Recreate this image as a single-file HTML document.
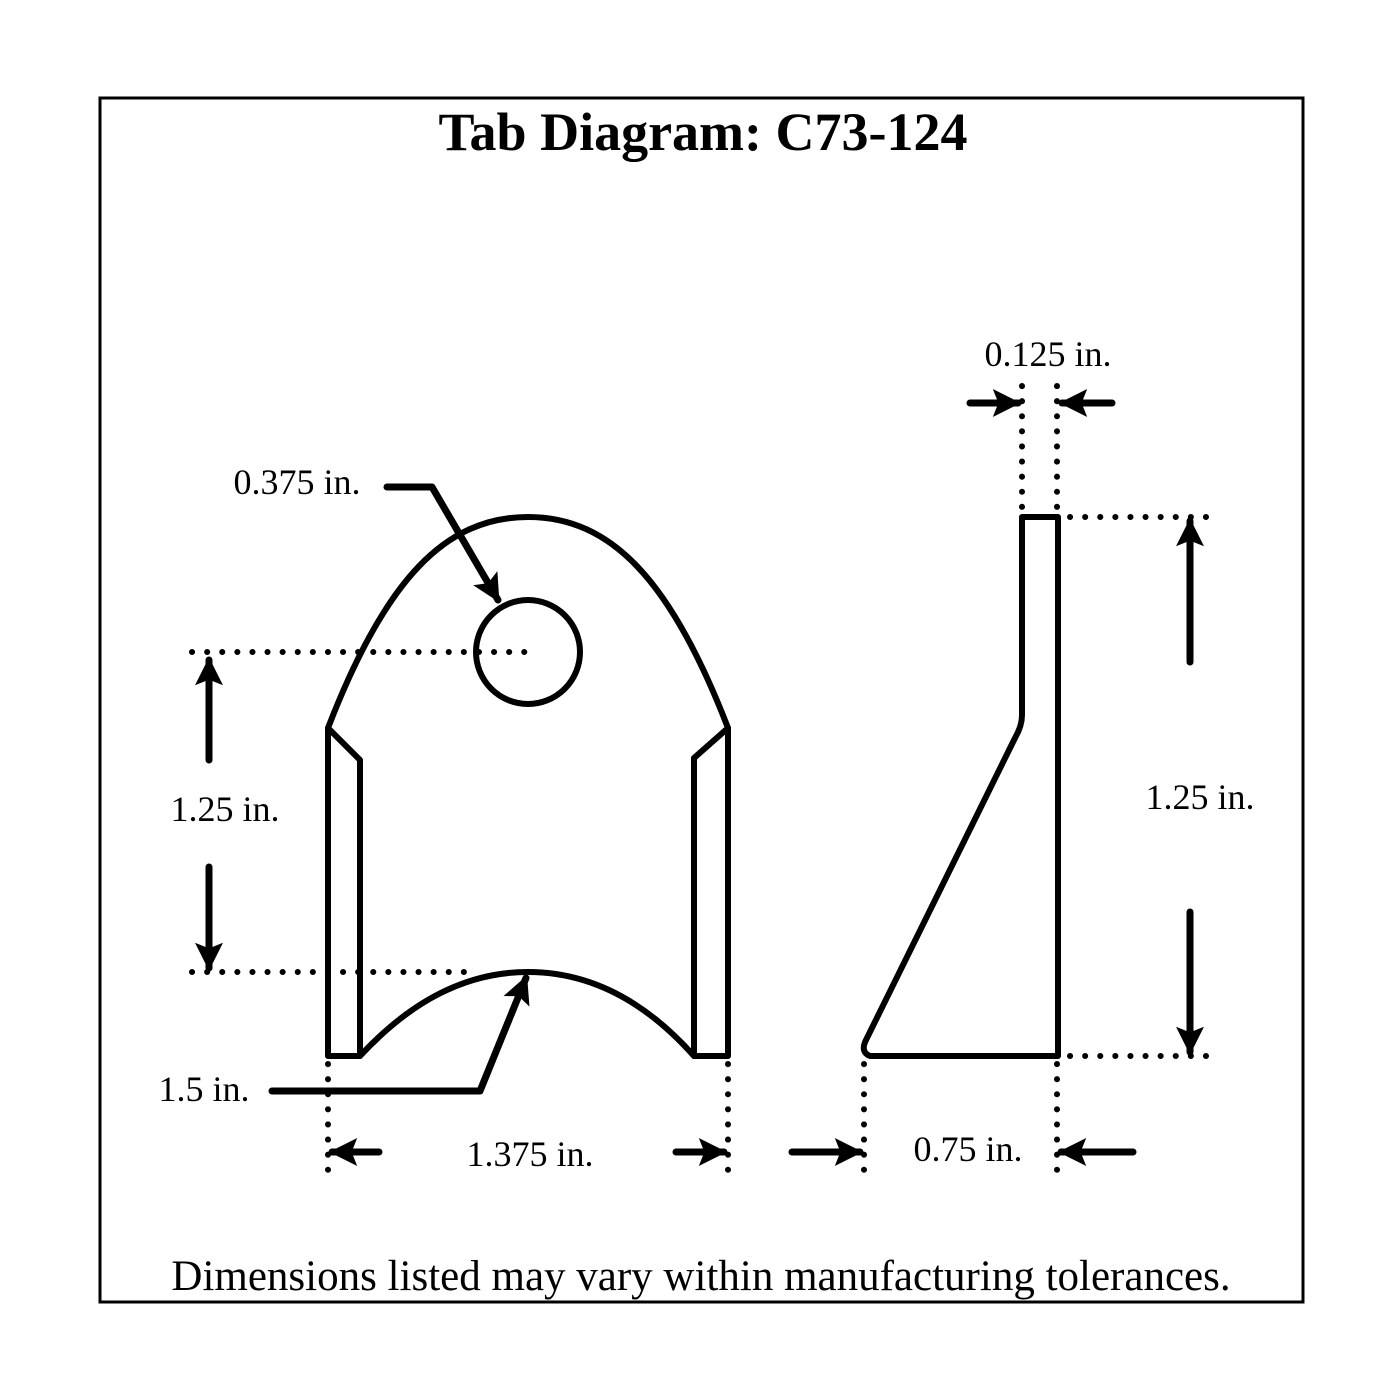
<!DOCTYPE html>
<html><head><meta charset="utf-8"><style>
html,body{margin:0;padding:0;background:#fff;}
svg{display:block;}
text{font-family:"Liberation Serif",serif;fill:#000;}
</style></head><body>
<svg width="1400" height="1400" viewBox="0 0 1400 1400" xmlns="http://www.w3.org/2000/svg">
<defs>
<marker id="ah" viewBox="0 0 10 10" refX="9" refY="5" markerWidth="4.5" markerHeight="4" markerUnits="strokeWidth" orient="auto">
<path d="M0,0 L10,5 L0,10 L2,5 Z" fill="#000"/></marker>
</defs>
<rect x="100" y="98" width="1203" height="1204" fill="none" stroke="#000" stroke-width="3"/>
<text x="703" y="150" font-size="54" font-weight="bold" text-anchor="middle">Tab Diagram: C73-124</text>
<text x="701" y="1290" font-size="43" text-anchor="middle">Dimensions listed may vary within manufacturing tolerances.</text>

<g fill="none" stroke="#000" stroke-width="6" stroke-linejoin="round" stroke-linecap="round">
<path d="M328,728 C385,580 445,517 528,517 C611,517 671,580 728,728"/>
<path d="M328,728 L328,1056 L360,1056 L360,760 Z"/>
<path d="M728,728 L728,1056 L694,1056 L694,758 Z"/>
<path d="M360,1056 C410,1002 465,972 528,972 C591,972 646,1002 694,1056"/>
<circle cx="528" cy="652" r="52"/>
<path d="M1022,517 L1058,517 L1058,1056 L870,1056 Q860,1052 866,1040 L1015,738 Q1022,726 1022,715 Z"/>
</g>

<g fill="none" stroke="#000" stroke-width="6" stroke-linecap="round" stroke-dasharray="0.1 15">
<line x1="192" y1="652" x2="530" y2="652"/>
<line x1="192" y1="972" x2="470" y2="972"/>
<line x1="328" y1="1064" x2="328" y2="1170"/>
<line x1="728" y1="1064" x2="728" y2="1170"/>
<line x1="1022" y1="386" x2="1022" y2="508"/>
<line x1="1057" y1="386" x2="1057" y2="508"/>
<line x1="1070" y1="517" x2="1210" y2="517"/>
<line x1="1070" y1="1056" x2="1210" y2="1056"/>
<line x1="864" y1="1064" x2="864" y2="1170"/>
<line x1="1057" y1="1064" x2="1057" y2="1170"/>
</g>

<g fill="none" stroke="#000" stroke-width="7" stroke-linecap="round" stroke-linejoin="round">
<line x1="209" y1="760" x2="209" y2="660" marker-end="url(#ah)"/>
<line x1="209" y1="867" x2="209" y2="968" marker-end="url(#ah)"/>
<polyline points="387,487 432,487 498,600" marker-end="url(#ah)"/>
<polyline points="272,1091 480,1091 526,978" marker-end="url(#ah)"/>
<line x1="379" y1="1152" x2="332" y2="1152" marker-end="url(#ah)"/>
<line x1="676" y1="1152" x2="724" y2="1152" marker-end="url(#ah)"/>
<line x1="970" y1="403" x2="1018" y2="403" marker-end="url(#ah)"/>
<line x1="1112" y1="403" x2="1062" y2="403" marker-end="url(#ah)"/>
<line x1="1190" y1="662" x2="1190" y2="521" marker-end="url(#ah)"/>
<line x1="1190" y1="912" x2="1190" y2="1052" marker-end="url(#ah)"/>
<line x1="792" y1="1152" x2="860" y2="1152" marker-end="url(#ah)"/>
<line x1="1133" y1="1152" x2="1061" y2="1152" marker-end="url(#ah)"/>
</g>

<g font-size="36" text-anchor="middle">
<text x="297" y="494">0.375 in.</text>
<text x="225" y="821">1.25 in.</text>
<text x="204" y="1101">1.5 in.</text>
<text x="530" y="1166">1.375 in.</text>
<text x="1048" y="366">0.125 in.</text>
<text x="1200" y="809">1.25 in.</text>
<text x="968" y="1161">0.75 in.</text>
</g>
</svg>
</body></html>
